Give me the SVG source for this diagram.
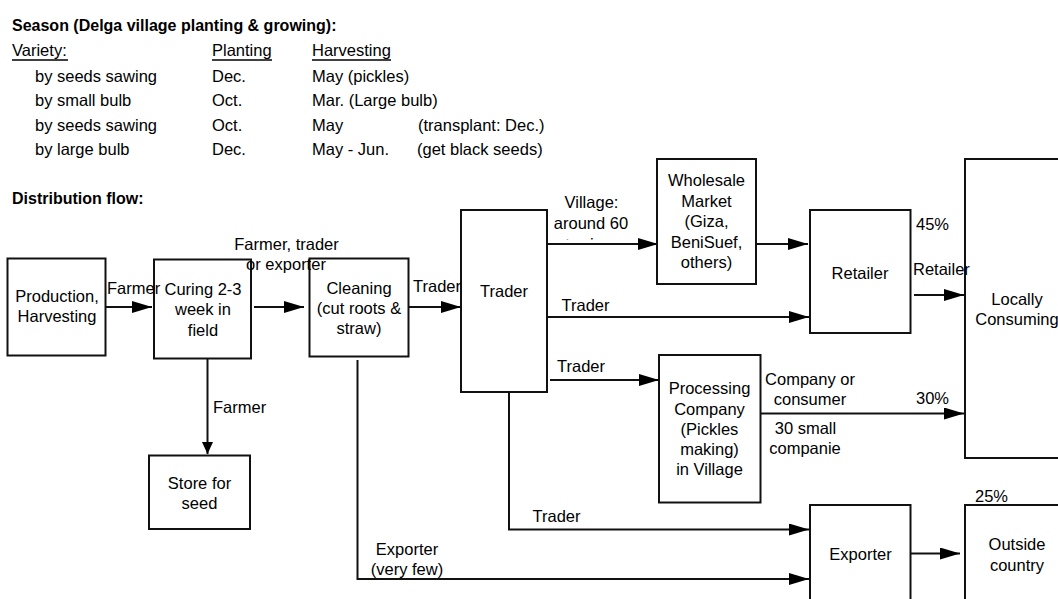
<svg xmlns="http://www.w3.org/2000/svg" width="1058" height="599" viewBox="0 0 1058 599">
  <style>
    text { font-family: "Liberation Sans", Arial, sans-serif; font-size: 16.5px; fill: #000; }
    .head { font-weight: bold; font-size: 16px; }
    .c { text-anchor: middle; }
    .box { fill: none; stroke: #111; stroke-width: 2; }
    .ln { fill: none; stroke: #111; stroke-width: 2; }
    .arr { marker-end: url(#ah); }
    .arrv { marker-end: url(#ahv); }
    .ul { stroke: #000; stroke-width: 1.4; }
  </style>
  <defs>
    <!-- arrowhead for horizontal flows -->
    <marker id="ah" viewBox="0 0 20 12" refX="20" refY="6" markerWidth="20" markerHeight="12" markerUnits="userSpaceOnUse" orient="auto">
      <path d="M0,0 L20,6 L0,12 z" fill="#000"/>
    </marker>
    <!-- shorter arrowhead for the vertical drop -->
    <marker id="ahv" viewBox="0 0 12 11" refX="12" refY="5.5" markerWidth="12" markerHeight="11" markerUnits="userSpaceOnUse" orient="auto">
      <path d="M0,0 L12,5.5 L0,11 z" fill="#000"/>
    </marker>
    <!-- third label line is cut off by its frame: only ascender tips remain -->
    <clipPath id="cutLine">
      <rect x="540" y="225" width="110" height="14.5"/>
    </clipPath>
  </defs>

  <rect x="0" y="0" width="1058" height="599" fill="#fff"/>

  <!-- season table -->
  <g id="season-table">
    <text class="head" x="12" y="31">Season (Delga village planting &amp; growing):</text>
    <text x="12" y="56">Variety:</text>
    <text x="212" y="56">Planting</text>
    <text x="312" y="56">Harvesting</text>
    <line class="ul" x1="12" y1="60" x2="68" y2="60"/>
    <line class="ul" x1="212" y1="60" x2="272" y2="60"/>
    <line class="ul" x1="312" y1="60" x2="391" y2="60"/>

    <text x="35" y="81.5">by seeds sawing</text>
    <text x="212" y="81.5">Dec.</text>
    <text x="312" y="81.5">May (pickles)</text>

    <text x="35" y="106">by small bulb</text>
    <text x="212" y="106">Oct.</text>
    <text x="312" y="106">Mar. (Large bulb)</text>

    <text x="35" y="130.5">by seeds sawing</text>
    <text x="212" y="130.5">Oct.</text>
    <text x="312" y="130.5">May</text>
    <text x="418" y="130.5">(transplant: Dec.)</text>

    <text x="35" y="155">by large bulb</text>
    <text x="212" y="155">Dec.</text>
    <text x="312" y="155">May - Jun.</text>
    <text x="417" y="155">(get black seeds)</text>

    <text class="head" x="12" y="204">Distribution flow:</text>
  </g>

  <!-- connectors -->
  <g id="connectors">
    <line class="ln arr" x1="106" y1="307" x2="152" y2="307"/>
    <line class="ln arr" x1="254" y1="307" x2="304" y2="307"/>
    <line class="ln arr" x1="409" y1="307" x2="461" y2="307"/>
    <line class="ln arrv" x1="207.5" y1="359" x2="207.5" y2="454"/>
    <line class="ln arr" x1="547" y1="244" x2="658" y2="244"/>
    <line class="ln arr" x1="757" y1="244" x2="808" y2="244"/>
    <line class="ln arr" x1="547" y1="317" x2="809" y2="317"/>
    <line class="ln arr" x1="914" y1="295" x2="964" y2="295"/>
    <line class="ln arr" x1="550" y1="380" x2="659" y2="380"/>
    <line class="ln arr" x1="761" y1="413.5" x2="964" y2="413.5"/>
    <polyline class="ln arr" points="509,392 509,529.5 809,529.5"/>
    <polyline class="ln arr" points="357.5,360 357.5,579 809,579"/>
    <line class="ln arr" x1="911" y1="553.5" x2="960" y2="553.5"/>
  </g>

  <!-- nodes -->
  <g id="production">
    <rect class="box" x="7.5" y="258.5" width="98" height="97"/>
    <text class="c" x="57" y="302">Production,</text>
    <text class="c" x="57" y="322">Harvesting</text>
  </g>
  <g id="curing">
    <rect class="box" x="154" y="259.5" width="97" height="99"/>
    <text class="c" x="203" y="294.5">Curing 2-3</text>
    <text class="c" x="203" y="315">week in</text>
    <text class="c" x="203" y="335.5">field</text>
  </g>
  <g id="store">
    <rect class="box" x="149" y="455.5" width="101" height="73.5"/>
    <text class="c" x="199.5" y="488.5">Store for</text>
    <text class="c" x="199.5" y="508.5">seed</text>
  </g>
  <g id="cleaning">
    <rect class="box" x="309.5" y="258.5" width="99" height="98"/>
    <text class="c" x="359" y="293.5">Cleaning</text>
    <text class="c" x="359" y="313.5">(cut roots &amp;</text>
    <text class="c" x="359" y="334">straw)</text>
  </g>
  <g id="trader">
    <rect class="box" x="461" y="210" width="86" height="182"/>
    <text class="c" x="504" y="297">Trader</text>
  </g>
  <g id="wholesale">
    <rect class="box" x="657" y="159" width="99" height="125"/>
    <text class="c" x="706.5" y="186">Wholesale</text>
    <text class="c" x="706.5" y="206.5">Market</text>
    <text class="c" x="706.5" y="227">(Giza,</text>
    <text class="c" x="706.5" y="247.5">BeniSuef,</text>
    <text class="c" x="706.5" y="268">others)</text>
  </g>
  <g id="processing">
    <rect class="box" x="659" y="355" width="101.5" height="147.5"/>
    <text class="c" x="709.5" y="394">Processing</text>
    <text class="c" x="709.5" y="414.5">Company</text>
    <text class="c" x="709.5" y="434.5">(Pickles</text>
    <text class="c" x="709.5" y="454.5">making)</text>
    <text class="c" x="709.5" y="475">in Village</text>
  </g>
  <g id="retailer">
    <rect class="box" x="810" y="210" width="100.5" height="123"/>
    <text class="c" x="860" y="278.5">Retailer</text>
  </g>
  <g id="exporter">
    <rect class="box" x="810" y="505" width="100.5" height="110"/>
    <text class="c" x="860.5" y="560">Exporter</text>
  </g>
  <g id="locally-consuming">
    <rect class="box" x="965" y="159" width="104" height="299"/>
    <text class="c" x="1017" y="305">Locally</text>
    <text class="c" x="1017" y="325">Consuming</text>
  </g>
  <g id="outside-country">
    <rect class="box" x="965" y="505" width="104" height="110"/>
    <text class="c" x="1017" y="550">Outside</text>
    <text class="c" x="1017" y="570.5">country</text>
  </g>

  <!-- connector labels -->
  <g id="connector-labels">
    <text x="107" y="294">Farmer</text>
    <text class="c" x="286.5" y="249.5">Farmer, trader</text>
    <text class="c" x="286" y="270">or exporter</text>
    <text x="413" y="291.5">Trader</text>
    <text x="213" y="412.5">Farmer</text>
    <text class="c" x="591.5" y="208">Village:</text>
    <text class="c" x="591" y="228.5">around 60</text>
    <text class="c" x="591" y="249.5" clip-path="url(#cutLine)">traders</text>
    <text x="561.5" y="311">Trader</text>
    <text x="557" y="371.5">Trader</text>
    <text x="532.5" y="522">Trader</text>
    <text class="c" x="407" y="555">Exporter</text>
    <text class="c" x="407" y="575">(very few)</text>
    <text class="c" x="810" y="385">Company or</text>
    <text class="c" x="810" y="405">consumer</text>
    <text class="c" x="805.5" y="433.5">30 small</text>
    <text class="c" x="805" y="453.5">companie</text>
    <text x="913" y="275">Retailer</text>
    <text x="916" y="230">45%</text>
    <text x="916" y="403.5">30%</text>
    <text x="975" y="502">25%</text>
  </g>
</svg>
